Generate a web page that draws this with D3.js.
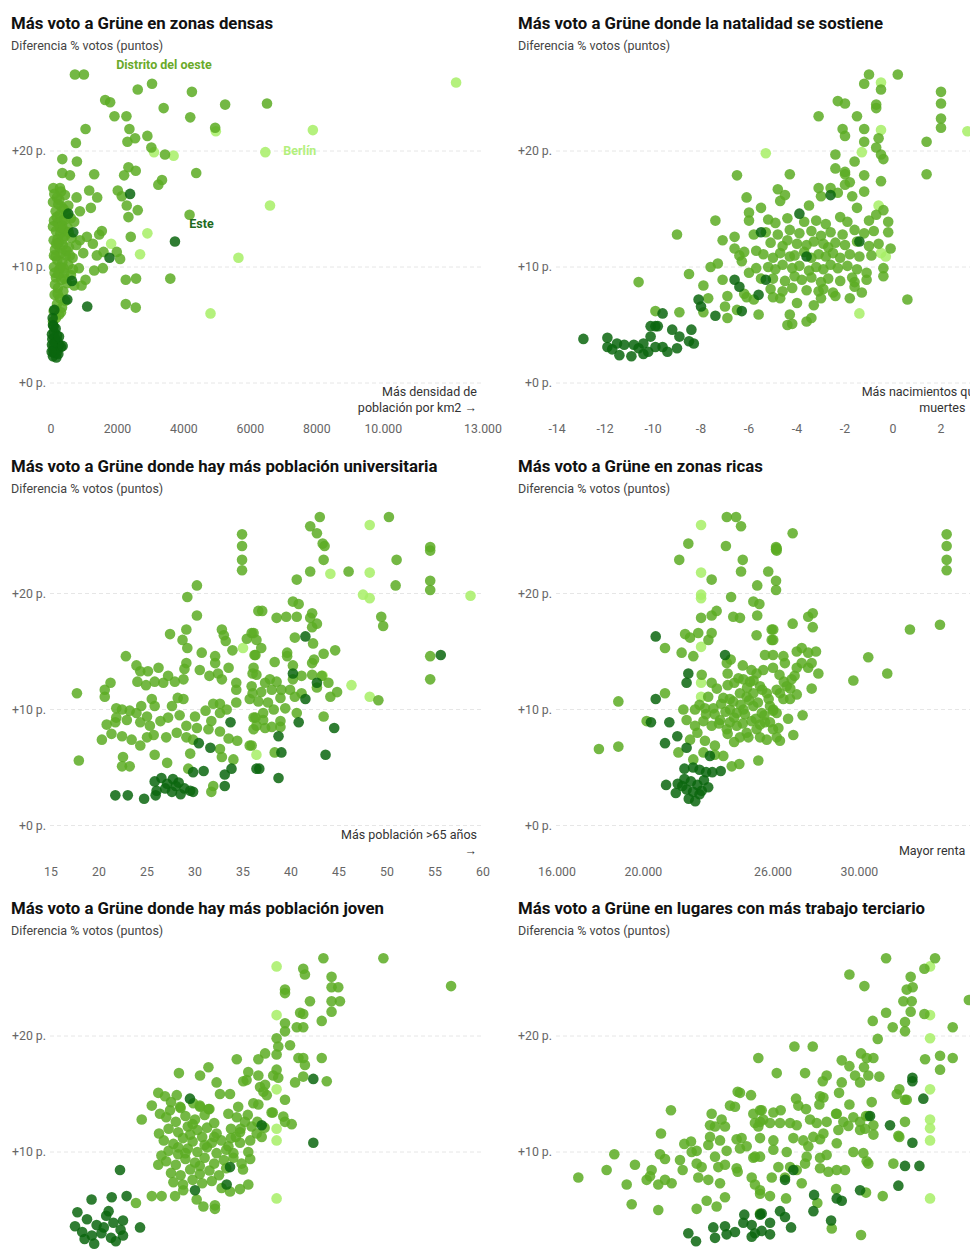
<!DOCTYPE html>
<html><head><meta charset="utf-8">
<script src="https://cdn.jsdelivr.net/npm/d3@7"></script>
<style>
body{margin:0;background:#fff;overflow:hidden}
svg{display:block;font-family:Roboto,"Noto Sans",sans-serif}
</style></head><body><svg id="c" width="980" height="1253"></svg>
<script>
// ---------- text ----------
const titles=["Más voto a Grüne en zonas densas","Más voto a Grüne donde la natalidad se sostiene","Más voto a Grüne donde hay más población universitaria","Más voto a Grüne en zonas ricas","Más voto a Grüne donde hay más población joven","Más voto a Grüne en lugares con más trabajo terciario"];
const subtitle="Diferencia % votos (puntos)";
const axisNotes=[["Más densidad de","población por km2 →"],["Más nacimientos que","muertes →"],["Más población >65 años","→"],["","Mayor renta →"],[],[]];
const yTicks=[0,10,20];
const yTickLabels=["+0 p.","+10 p.","+20 p."];
// ---------- x ticks ----------
const p1Ticks=[0,2000,4000,6000,8000,10000,13000];
const p1TickLabels=["0","2000","4000","6000","8000","10.000","13.000"];
const p2Ticks=[-14,-12,-10,-8,-6,-4,-2,0,2];
const p2TickLabels=["-14","-12","-10","-8","-6","-4","-2","0","2"];
const p3Ticks=[15,20,25,30,35,40,45,50,55,60];
const p3TickLabels=["15","20","25","30","35","40","45","50","55","60"];
const p4Ticks=[16,20,26,30];
const p4TickLabels=["16.000","20.000","26.000","30.000"];
// x domains
const p1Domain=[0,13000], p2Domain=[-14,4], p3Domain=[15,60], p4Domain=[16,36], p5Domain=[8,26], p6Domain=[50,95];
// panel 1 labels [text, x, y, group]
const p1Labels=[["Distrito del oeste",1960,27.1,"west"],["Berlín",6990,19.65,"berlin"],["Este",4160,13.4,"east"]];

// ---------- Panel 1: density ----------
const p1West=[[720,26.6],[990,26.6],[2610,25.3],[3040,25.8],[4240,25.1],[5240,24.0],[1630,24.4],[1780,24.2],[3390,23.7],[1910,23.0],[2270,23.0],[4190,22.9],[1040,21.9],[2360,21.9],[2530,21.1],[2900,21.3],[4940,22.0],[750,20.7],[2300,20.8],[3020,20.3],[3430,19.7],[340,19.3],[780,19.1],[2330,18.6],[2550,18.3],[2200,17.9],[1300,18.0],[340,18.1],[570,17.9],[4370,18.1],[3340,17.5],[3230,17.1],[70,16.8],[270,16.8],[1150,16.6],[1390,16.0],[2010,16.6],[2130,16.1],[770,16.0],[2280,15.3],[2610,14.9],[4170,14.5],[2330,14.3],[1200,15.1],[870,14.8],[1530,13.1],[1450,12.8],[1080,12.6],[870,12.3],[1260,12.0],[2400,12.6],[1580,11.3],[1980,11.3],[2080,10.7],[1380,11.0],[970,11.2],[1300,9.7],[1560,9.9],[840,9.9],[2250,8.9],[2560,9.0],[3590,9.0],[1040,8.9],[920,8.4],[2250,6.8],[2550,6.5],[6500,24.1],
[100,16.3],[180,16.0],[300,16.5],[420,16.2],[60,15.6],[220,15.4],[380,15.0],[520,15.3],[140,14.8],[260,14.5],[460,14.6],[600,14.2],[90,14.0],[200,13.8],[330,13.6],[500,13.4],[700,13.9],[150,13.1],[280,12.9],[420,12.7],[620,12.5],[80,12.3],[230,12.1],[360,11.9],[540,11.7],[760,11.9],[120,11.5],[300,11.2],[450,11.0],[650,10.8],[190,10.6],[340,10.4],[520,10.2],[90,10.0],[250,9.8],[400,9.5],[600,9.3],[150,9.1],[310,8.9],[480,8.6],[700,8.4],[210,8.2],[370,7.9],[110,7.6],[270,7.3],[430,7.1],[180,6.8],[330,6.5],[80,6.2],[240,5.9],[150,5.6],[60,5.3],[200,12.4],[260,11.6],[140,10.9],[380,13.2],[170,14.3],[250,15.8],[330,14.0],[410,9.0],[220,9.4],[120,8.5],[290,10.0],[470,11.4],[350,12.4],[90,11.0],[200,7.7],[530,13.0],[160,12.0],[270,13.4],[420,14.1],[320,15.2],[60,13.5],[110,9.5],[570,11.0],[660,9.8],[300,6.1],[380,9.9]];
const p1East=[[2380,16.3],[520,14.6],[670,13.0],[3730,12.2],[1760,10.8],[630,8.8],[490,7.2],[1090,6.6],
[60,2.3],[100,2.6],[150,2.9],[80,3.2],[200,3.0],[120,3.5],[250,3.3],[40,3.8],[180,4.1],[90,4.4],[140,4.7],[60,5.0],[220,2.5],[300,3.1],[160,2.2],[110,3.9],[30,4.2],[70,2.8],[190,3.6],[240,4.0],[50,5.6],[130,3.0],[170,2.6],[80,4.9],[30,3.3],[350,3.2],[100,6.3],[20,2.7]];
const p1Berlin=[[12190,25.9],[4960,21.7],[3100,19.9],[3690,19.6],[7880,21.8],[6450,19.9],[6590,15.3],[2900,12.9],[1810,12.0],[2680,11.1],[5640,10.8],[4800,6.0]];

// ---------- Panel 2: natality ----------
const p2West=[[-6.5,17.9],[-9.0,12.8],[-10.6,8.7],[-9.9,6.2],[-8.9,6.1],[-8.5,9.4],[-7.4,14.0],[-7.6,10.0],[-7.3,10.3],[-7.9,8.4],[-7.7,7.3],[-7.9,6.1],[-7.1,12.3],[-6.6,12.6],[-6.6,11.6],[-6.4,11.0],[-6.2,11.3],[-6.3,10.5],[-6.1,16.0],[-6.0,14.7],[-6.0,14.0],[-5.8,12.8],[-5.7,11.4],[-6.0,9.5],[-7.1,8.9],[-6.9,7.5],[-7.0,6.6],[-6.9,5.6],[-6.5,6.3],[-6.2,7.7],[-6.1,7.4],[-5.8,7.2],[-5.6,5.9],[-5.7,9.9],[-5.5,9.0],[-5.5,15.1],
[-1.0,26.6],[0.2,26.6],[-1.2,25.8],[-0.5,25.3],[2.0,25.1],[2.0,24.1],[2.0,22.8],[2.0,22.0],[-2.3,24.3],[-2.0,24.1],[-0.7,24.0],[-0.7,23.7],[-3.1,23.0],[-1.5,23.0],[-2.1,21.9],[-2.0,21.3],[-1.2,21.9],[-0.6,21.1],[-0.7,20.3],[-1.2,20.8],[1.4,20.8],[-0.4,19.3],[-0.5,19.7],[-2.4,19.7],[-1.6,19.1],[-2.4,18.5],[-2.0,18.2],[-2.0,18.0],[-1.2,17.9],[-0.5,17.4],[1.4,18.0],[-4.3,18.0],[-2.0,17.1],[-1.8,17.3],[-3.1,16.8],[-3.0,16.1],[-2.6,16.8],[-2.3,16.4],[-4.8,16.7],[-4.5,16.2],[-4.7,15.7],[-1.7,16.1],[-1.2,16.5],[-3.5,15.3],[-1.5,15.1],[-0.4,14.9],[-0.7,14.5],[0.6,7.2],[-0.1,11.6],[-0.2,13.9],[-0.2,13.0],[-0.4,9.9],[-0.4,9.2],[-1.1,9.5],[-1.1,8.9],[-1.6,8.7],[-1.6,8.3],[-1.3,7.8],[-1.8,7.3],[-2.4,7.5],[-3.1,7.9],[-3.0,7.3],[-3.3,6.7],[-3.6,5.3],[-3.4,5.6],[-4.4,5.0],[-4.2,5.1],[-4.3,5.9],[-4.0,6.9],[-4.7,7.3],[-5.0,7.4],
[-5.2,14.1],[-4.9,13.8],[-4.4,14.2],[-3.7,13.9],[-3.2,14.0],[-2.8,13.7],[-2.2,14.3],[-1.9,13.9],[-1.0,14.0],
[-5.3,13.0],[-4.8,12.8],[-4.3,13.2],[-3.9,12.9],[-3.4,13.1],[-3.0,12.7],[-2.6,13.0],[-2.1,12.8],[-1.6,13.2],[-1.2,12.9],[-0.8,13.1],
[-5.1,12.1],[-4.6,11.8],[-4.4,12.3],[-4.0,12.0],[-3.6,11.9],[-3.3,12.2],[-2.9,12.0],[-2.7,11.7],[-2.4,12.1],[-2.0,11.9],[-1.5,12.2],[-1.0,11.8],[-0.6,12.0],
[-5.4,11.1],[-5.0,10.8],[-4.7,11.2],[-4.3,10.9],[-4.1,11.0],[-3.7,11.3],[-3.4,10.8],[-3.1,11.1],[-2.8,10.9],[-2.5,11.2],[-2.2,10.8],[-1.8,11.1],[-1.4,10.9],[-0.9,11.0],
[-5.2,10.0],[-4.9,9.8],[-4.6,10.2],[-4.2,9.9],[-3.9,10.1],[-3.5,9.7],[-3.2,10.0],[-2.9,9.8],[-2.6,10.2],[-2.3,9.9],[-1.9,10.1],[-1.5,9.8],
[-5.0,9.0],[-4.5,8.8],[-4.1,9.2],[-3.8,8.9],[-3.4,9.1],[-3.0,8.7],[-2.7,9.0],[-2.2,8.8],[-1.7,9.1],
[-5.1,8.1],[-4.6,7.9],[-4.2,8.2],[-3.6,8.0],[-2.9,8.1],[-2.5,7.8]];
const p2East=[[-12.9,3.8],[-11.9,3.9],[-11.9,3.1],[-11.5,3.4],[-11.4,2.4],[-11.2,3.3],[-10.9,2.3],[-10.8,3.3],[-10.4,3.4],[-10.4,2.5],[-10.2,2.7],[-9.9,3.1],[-10.1,4.0],[-9.9,4.9],[-9.8,4.9],[-9.6,3.1],[-9.4,2.7],[-9.2,4.6],[-8.9,4.0],[-9.0,3.0],[-8.5,3.6],[-8.3,3.4],[-8.4,4.6],[-9.6,6.0],[-10.1,4.9],[-8.1,7.2],[-8.0,6.6],[-7.4,5.8],[-6.6,8.9],[-6.4,8.3],[-6.3,6.2],[-5.5,13.0],[-5.6,7.6],[-3.9,14.6],[-1.4,12.2],[-3.6,10.9],[-5.3,8.9],[-2.6,16.2],[-11.7,2.9],[-10.6,3.0]];
const p2Berlin=[[-5.3,19.8],[-0.5,25.9],[-0.5,21.8],[3.1,21.7],[-1.3,19.9],[-0.6,15.3],[-0.5,11.2],[-0.3,10.9],[-1.4,6.0]];

// ---------- Panel 3: population ----------
const p3West=[[34.9,25.1],[34.9,24.1],[34.9,22.9],[34.9,22.0],[30.2,20.7],[29.2,19.7],[30.2,18.1],[27.4,16.5],[29.1,16.9],[28.7,16.0],[29.2,15.3],[32.8,16.9],[33.0,16.4],[33.2,15.9],[33.9,15.1],[30.7,14.9],[32.1,14.6],[32.1,14.0],[33.5,13.6],[22.8,14.6],[23.9,13.8],[24.3,13.3],[25.1,13.3],[26.2,13.6],[24.0,12.4],[24.9,12.1],[25.8,12.4],[26.7,12.3],[27.2,12.9],[27.9,12.4],[28.8,12.6],[28.9,13.5],[29.1,14.0],[30.5,13.4],[31.5,12.9],[32.4,13.1],[32.8,12.6],[34.3,12.3],[34.3,11.7],[17.7,11.4],[20.6,11.7],[21.2,12.3],[20.6,11.1],
[21.8,10.1],[22.4,10.0],[23.2,9.9],[21.8,9.3],[22.9,9.1],[23.9,9.7],[24.4,10.3],[25.5,10.9],[25.8,10.3],[25.0,9.4],[24.3,8.9],[25.3,8.6],[26.4,9.0],[27.2,9.3],[27.6,10.3],[28.2,11.0],[28.8,10.9],[28.4,9.5],[29.1,8.6],[30.0,9.4],[31.1,9.9],[31.9,10.5],[32.6,10.5],[33.3,10.0],[34.3,10.6],[32.6,9.7],[31.7,9.0],[31.4,8.3],[32.6,8.1],[30.2,8.4],[29.1,7.6],[29.8,7.4],[28.1,8.0],[27.0,7.6],[25.7,7.8],[25.0,7.6],[24.3,6.9],[23.4,7.4],[22.4,7.7],[21.3,7.9],[20.8,8.7],[20.3,7.4],[21.7,8.9],
[17.9,5.6],[22.5,5.9],[22.4,5.1],[23.2,5.1],[25.8,6.1],[27.1,5.4],[29.5,6.2],[29.3,4.9],[32.6,6.6],[32.8,5.9],[34.0,5.7],[33.5,7.5],[34.4,7.3],[35.7,6.9],[31.9,3.4],[31.7,2.9],[36.0,11.4],[35.7,10.9],[36.1,9.3],[36.1,8.3],[36.2,14.7],[36.0,13.1],[35.4,16.1],[35.9,16.6],[36.6,18.5],
[43.0,26.6],[42.0,25.8],[42.7,25.2],[43.3,24.3],[43.5,24.1],[43.4,22.9],[50.2,26.6],[54.5,24.0],[54.5,23.7],[51.0,22.9],[40.6,21.2],[42.0,21.9],[46.0,21.9],[50.9,20.7],[54.5,21.1],[54.5,20.3],[37.0,18.5],[38.5,17.9],[39.5,18.0],[40.6,18.0],[40.2,19.3],[40.8,19.1],[42.2,18.3],[42.0,17.9],[42.7,17.4],[42.2,17.1],[49.4,18.0],[49.6,17.2],[36.1,16.6],[36.4,16.0],[36.9,15.3],[36.3,14.7],[40.4,16.2],[42.3,15.7],[39.6,14.9],[39.6,14.6],[38.3,14.1],[40.2,13.8],[42.2,14.0],[42.4,14.3],[43.4,14.8],[44.6,15.1],[36.1,13.6],[36.4,13.0],[37.3,12.3],[37.8,12.6],[38.5,12.4],[40.2,12.6],[41.1,12.9],[42.2,13.0],[43.2,12.9],[42.7,11.9],[43.9,12.3],[35.9,12.0],[36.9,11.5],[38.0,11.7],[39.0,11.7],[39.9,11.7],[41.1,11.4],[40.4,11.1],[44.1,11.1],[44.8,11.5],[38.9,11.0],[36.6,10.7],[37.6,10.6],[39.4,10.1],[38.2,10.0],[37.1,9.7],[36.3,9.3],[36.4,8.6],[37.3,8.4],[38.0,8.5],[38.9,9.0],[38.9,8.5],[37.1,9.1],[40.6,9.7],[43.4,9.4],[35.9,6.9],[38.3,6.3],[54.5,14.6],[54.5,12.6],[49.1,10.8]];
const p3East=[[30.4,7.1],[31.6,6.7],[33.7,8.9],[29.8,4.6],[30.9,4.7],[33.1,4.4],[33.8,4.9],[33.1,3.4],[36.4,4.9],[21.7,2.6],[23.0,2.6],[24.7,2.3],[25.8,3.8],[26.5,4.1],[27.1,3.6],[27.7,4.0],[28.3,3.7],[28.9,3.2],[29.5,3.0],[26.0,3.0],[26.9,3.2],[27.6,2.9],[28.5,2.7],[29.8,2.9],[28.0,3.4],[25.9,2.6],
[41.5,16.3],[55.6,14.7],[40.2,13.1],[42.7,12.3],[41.5,10.9],[40.8,8.9],[44.5,8.4],[38.7,7.7],[39.0,6.3],[43.6,6.1],[36.7,4.9],[38.7,4.1]];
const p3Berlin=[[35.0,15.3],[36.4,6.1],[48.2,25.9],[44.1,21.7],[48.2,21.8],[47.5,19.9],[48.2,19.6],[58.7,19.8],[43.3,12.9],[46.3,12.1],[48.2,11.1]];

// ---------- Panel 4: income (miles de euros) ----------
const p4West=[[23.86,26.6],[24.29,26.6],[24.52,25.8],[22.08,24.3],[23.82,24.1],[21.66,22.9],[24.6,22.9],[24.52,21.9],[25.78,21.9],[26.14,24.0],[26.14,23.8],[23.16,21.2],[25.27,20.7],[26.14,21.1],[26.14,20.3],[24.06,19.7],[25.09,19.3],[25.37,19.1],[22.67,17.9],[23.16,18.1],[23.39,18.5],[24.16,18.0],[24.47,17.9],[25.27,18.1],[25.94,16.9],[25.94,16.0],[25.24,16.4],[21.93,16.5],[22.16,16.2],[22.54,16.6],[23.01,16.0],[23.16,16.6],[21.0,15.3],[21.77,14.9],[22.31,14.6],[24.04,14.3],[23.86,14.0],[23.9,13.1],[22.7,13.0],[23.16,12.3],[24.21,12.3],[24.63,12.6],[24.94,12.4],[25.24,13.1],[25.55,13.4],[26.0,13.6],[25.63,14.7],[26.0,14.7],[21.0,11.4],[18.84,10.7],[20.15,9.0],[17.94,6.6],[18.84,6.8],[21.85,10.0],[22.39,10.0],[22.85,10.1],[23.24,10.1],[23.7,11.0],[24.16,10.7],[24.47,11.4],[24.78,11.1],[25.09,11.4],[25.4,12.0],[25.71,11.4],[26.17,11.7],[24.01,10.0],[24.32,9.7],[24.63,10.0],[25.09,10.3],[25.48,9.7],[25.86,10.3],[26.17,9.7],[22.0,9.1],[22.39,8.6],[22.78,9.0],[23.16,8.6],[23.55,9.1],[23.86,8.3],[24.32,8.6],[24.78,8.0],[25.24,8.3],[25.63,8.9],[26.0,8.3],[26.17,7.6],[22.16,7.4],[22.85,7.3],[23.31,6.9],[23.7,6.0],[24.47,7.6],[24.86,7.6],[25.4,7.6],[25.71,7.4],[21.62,6.3],[22.31,5.7],[22.78,6.3],[23.31,6.1],[24.09,5.1],[24.44,5.3],[25.32,5.6],
[26.91,25.2],[26.17,23.9],[26.17,23.7],[34.04,25.1],[34.04,24.1],[34.04,22.9],[34.04,22.0],[32.34,16.9],[33.73,17.3],[30.41,14.5],[31.29,13.1],[29.72,12.5],[26.91,17.4],[27.63,18.0],[27.84,18.3],[27.84,17.1],[27.1,15.0],[27.33,15.3],[27.63,14.9],[27.99,15.0],[27.33,14.0],[27.79,14.0],[27.63,13.6],[28.1,13.1],[27.79,11.8],[27.1,11.3],[26.79,10.9],[27.37,9.5],[26.94,7.8],[26.32,7.3],[26.25,8.4],[26.01,16.9],[26.01,16.0],[26.48,14.6],[26.55,14.0],[26.86,12.6],[26.63,12.0],[26.32,11.4],[26.48,10.9],[26.01,10.0],[25.86,8.9],
[23.4,11.8],[23.9,12.1],[24.4,12.7],[24.8,11.9],[25.1,12.5],[25.5,11.7],[23.6,10.5],[24.0,10.9],[24.5,10.4],[24.9,10.8],[25.3,10.6],[25.8,10.9],[23.3,9.6],[23.8,9.8],[24.2,9.3],[24.7,9.6],[25.2,9.2],[25.6,9.5],[26.0,9.9],[23.5,8.8],[24.0,8.9],[24.6,8.8],[25.0,9.0],[25.4,8.7],[22.9,9.6],[22.6,10.4],[23.0,11.1],[22.5,8.0],[23.9,7.9],[24.2,7.2],[25.0,13.4],[24.6,13.8],[26.5,12.4],[26.8,11.8],[26.3,13.0],[27.0,12.9],[26.7,9.2],[27.1,13.6]];
const p4East=[[20.57,16.3],[23.78,14.7],[22.08,13.1],[22.0,12.3],[20.57,10.9],[20.35,8.9],[21.2,8.9],[21.57,7.7],[21.0,7.1],[22.0,6.7],[23.08,6.0],[23.19,4.6],[23.58,4.7],[21.05,3.5],[21.59,3.6],[21.9,4.9],[22.3,5.0],[22.6,4.8],[22.9,4.6],[21.9,4.0],[22.2,3.8],[22.5,3.5],[22.8,3.9],[23.0,3.3],[22.0,3.1],[22.3,2.9],[22.6,2.7],[22.1,2.3],[22.4,2.1],[22.7,3.0],[21.5,2.8],[21.8,3.4]];
const p4Berlin=[[22.67,12.3],[22.67,11.1],[22.67,25.9],[22.67,21.8],[22.67,19.9],[22.67,19.6],[22.67,15.4]];

// ---------- Panel 5: young population ----------
const p5West=[[13.33,16.8],[14.21,16.6],[14.56,17.3],[15.74,18.0],[16.64,18.0],[16.92,18.5],[14.9,16.0],[15.04,15.0],[15.46,15.0],[16.15,16.2],[16.01,16.1],[16.22,16.9],[16.64,16.6],[16.71,15.6],[16.92,15.8],[16.85,15.2],[16.99,14.9],[16.43,14.2],[16.64,14.1],[17.19,13.4],[12.47,15.1],[12.75,14.8],[13.24,14.9],[12.2,14.0],[11.78,12.8],[12.54,13.3],[12.96,13.6],[13.38,13.9],[13.93,14.2],[14.21,13.9],[14.56,13.7],[15.39,13.3],[15.74,13.0],[16.08,12.6],[16.36,12.2],[16.57,11.6],[16.78,11.3],[15.875,11.7],[15.875,10.8],[16.22,10.0],[15.94,9.0],[15.6,9.9],[15.39,10.5],[12.47,8.9],[12.2,6.2],[12.61,6.2],[13.17,6.2],[13.51,6.7],[14.07,5.9],[14.35,5.3],[14.83,5.4],[14.83,5.1],[15.11,6.9],[15.46,6.6],[15.875,6.8],[16.22,7.2],[11.54,5.6],
[12.8,13.0],[13.2,12.6],[13.6,13.1],[14.0,12.8],[14.4,13.2],[14.8,12.5],[12.9,12.0],[13.3,11.7],[13.7,12.2],[14.1,11.9],[14.5,12.1],[14.9,11.6],[12.7,11.0],[13.1,10.7],[13.5,11.2],[13.9,10.9],[14.3,11.3],[14.7,10.8],[15.1,11.0],[12.9,10.1],[13.3,9.8],[13.7,10.3],[14.1,10.0],[14.5,10.4],[14.9,9.9],[15.3,10.2],[12.8,9.2],[13.2,8.9],[13.6,9.4],[14.0,9.1],[14.4,9.5],[14.8,9.0],[15.2,9.3],[13.0,8.2],[13.4,8.0],[13.8,8.5],[14.2,8.1],[14.6,8.4],[15.0,8.0],[13.1,7.4],[13.5,7.2],[13.9,7.6],[14.3,7.3],[14.7,7.5],[13.4,13.8],[14.2,14.0],[13.0,14.3],[14.6,13.7],[13.8,11.5],[14.4,10.6],[13.6,9.9],[14.2,8.8],[13.9,12.4],[13.3,10.4],[14.8,11.3],[15.5,12.0],[15.6,9.5],[15.3,8.6],[12.6,9.7],[12.5,11.6],[15.7,11.3],[16.0,8.5],[16.3,9.4],[15.5,11.2],[15.9,12.0],[16.3,11.0],[16.6,12.6],[16.9,12.1],[15.8,13.9],[16.2,13.2],
[19.35,26.7],[21.85,26.7],[18.51,25.8],[18.58,25.3],[19.69,25.1],[17.75,24.0],[17.75,23.7],[19.69,24.2],[19.97,24.2],[18.79,23.0],[19.69,23.0],[20.04,23.0],[19.69,22.1],[24.67,24.3],[18.38,22.0],[18.51,21.9],[19.28,21.3],[17.75,21.1],[17.75,20.4],[18.24,20.75],[18.51,20.75],[17.4,19.8],[17.47,19.1],[17.96,19.2],[17.4,18.4],[18.31,18.1],[18.51,18.1],[18.58,17.5],[19.28,18.1],[17.4,17.1],[17.26,16.6],[17.47,16.4],[18.17,16.0],[18.51,16.5],[19.49,16.1],[17.75,14.5],[17.24,13.4],[17.68,13.05],[17.75,12.6],[18.03,12.4]];
const p5East=[[13.79,14.6],[16.78,12.3],[15.46,8.7],[15.32,7.2],[14.0,6.7],[10.875,8.45],[9.69,5.9],[10.53,6.1],[11.15,6.2],[11.71,3.5],[9.1,4.8],[9.5,4.2],[9.9,3.7],[10.3,4.5],[10.6,3.9],[11.0,4.1],[9.3,3.1],[9.7,2.8],[10.1,3.0],[10.5,2.6],[10.9,3.3],[9.0,3.6],[9.4,2.5],[10.7,2.3],[11.0,2.8],[9.8,2.1],[10.2,3.5],[10.4,4.9],[18.93,16.3],[18.93,10.8]];
const p5Berlin=[[17.4,26.0],[17.4,21.8],[17.4,15.4],[17.4,12.0],[17.4,11.0],[17.4,6.0]];

// ---------- Panel 6: tertiary employment ----------
const p6West=[[52.22,7.8],[55.17,8.45],[55.97,9.8],[58.12,8.9],[57.26,7.2],[57.78,5.5],[59.86,8.45],[59.34,7.6],[59.69,7.9],[60.55,7.2],[61.25,7.6],[61.94,7.3],[60.55,5.0],[60.83,11.6],[61.87,13.6],[60.73,9.8],[61.25,9.4],[62.81,9.3],[63.09,8.45],[63.26,10.7],[63.96,10.9],[64.03,10.0],[64.55,10.1],[64.55,9.0],[65.07,8.7],[64.72,7.8],[65.76,7.6],[65.76,10.6],[65.94,11.3],[66.11,13.3],[65.94,12.3],[66.46,12.2],[67.15,12.8],[67.5,12.2],[66.98,11.0],[66.46,9.6],[66.8,8.7],[67.5,8.9],[66.98,7.3],[67.67,10.1],[68.02,14.0],[68.54,13.9],[68.82,15.2],[69.06,15.1],[70.21,14.9],[68.71,11.1],[69.06,10.3],[69.76,10.5],[69.23,11.2],[68.71,8.6],[68.82,8.3],[70.45,13.3],[70.62,12.5],[70.97,12.2],[71.32,13.6],[71.49,12.8],[70.97,18.1],[70.45,9.5],[70.62,9.6],[70.28,7.8],[70.62,7.2],[71.15,6.4],[65.59,5.8],[66.63,5.3],[67.5,6.1],[64.55,5.1],[71.15,4.7],
[84.28,26.7],[89.38,26.7],[88.27,25.8],[80.46,25.3],[82.02,24.3],[86.84,25.1],[86.43,24.0],[87.05,24.2],[86.08,23.0],[86.95,23.0],[86.84,22.1],[84.28,22.0],[88.27,21.9],[82.89,21.3],[84.97,20.75],[86.25,21.2],[86.25,20.4],[91.22,20.75],[83.41,19.75],[74.73,19.1],[76.64,19.1],[88.34,18.0],[89.9,18.3],[91.22,18.1],[89.9,17.1],[79.66,17.9],[80.46,17.4],[81.67,18.5],[82.26,18.1],[82.96,18.1],[81.98,17.3],[72.89,16.8],[75.84,16.8],[78.09,16.6],[77.68,16.1],[79.66,16.0],[81.05,16.6],[81.57,16.0],[82.43,16.6],[83.58,16.5],[85.39,15.0],[85.66,15.4],[86.25,14.5],[86.43,14.5],[74.9,14.6],[75.14,14.0],[75.94,13.7],[77.4,14.8],[77.75,14.7],[77.33,14.1],[79.38,15.1],[80.46,14.1],[79.07,13.3],[82.78,14.3],[82.19,13.1],[82.43,13.1],[71.15,13.6],[72.54,13.4],[73.3,13.6],[71.15,12.6],[72.19,12.5],[73.23,12.5],[74.28,12.5],[74.97,12.3],[76.36,12.8],[77.05,12.5],[78.09,12.6],[79.14,13.3],[79.83,12.6],[80.87,13.0],[81.57,12.6],[82.09,12.0],[71.15,11.2],[72.54,11.0],[74.62,11.2],[75.66,11.0],[76.7,11.3],[77.75,11.6],[79.31,11.9],[80.35,12.25],[81.57,11.9],[82.96,12.3],[82.96,11.5],[86.25,12.6],[85.56,11.4],[72.54,10.2],[73.93,10.0],[76.18,10.5],[77.4,11.1],[76.01,9.6],[77.4,9.5],[78.09,9.75],[79.14,10.75],[80.87,10.0],[81.91,9.9],[82.26,9.2],[82.43,9.0],[71.15,9.6],[73.06,8.7],[74.28,8.7],[74.97,8.45],[75.84,9.0],[77.4,8.6],[78.27,8.3],[79.14,8.45],[80.0,8.45],[72.37,7.8],[73.75,7.8],[75.49,7.3],[71.15,6.7],[72.19,6.2],[73.86,6.0],[77.12,5.6],[79.07,6.8],[82.19,6.5],[83.93,6.2],[85.04,9.0],[85.66,11.3],[78.62,3.4],[81.67,2.85],[92.9,23.1]];
const p6East=[[63.68,3.0],[64.48,2.3],[66.28,3.5],[66.46,2.6],[67.5,3.6],[67.67,2.9],[68.54,3.1],[69.51,4.6],[69.41,3.9],[70.28,3.7],[70.62,3.0],[70.28,2.7],[71.32,3.2],[71.15,4.6],
[87.02,16.4],[87.02,16.1],[88.16,14.6],[82.61,13.1],[84.69,12.3],[87.02,10.8],[86.25,8.8],[87.75,8.8],[85.56,7.1],[81.57,6.7],[79.14,6.0],[79.66,5.8],[76.78,6.3],[76.71,4.9],[73.23,4.9],[73.75,4.4],[78.55,4.1],[74.38,3.5],[71.32,4.7],[72.19,3.9],[72.19,2.9],[73.75,7.6],[74.62,8.45]];
const p6Berlin=[[88.86,26.0],[88.86,21.8],[88.86,19.8],[88.86,15.4],[88.86,12.8],[88.86,12.05],[88.86,11.0],[88.86,6.0]];

// ---------- styles ----------
const colors={west:"#5cab23",east:"#0a660e",berlin:"#a7ee66"};
const labelColors={west:"#6aaa2a",east:"#1e6a1e",berlin:"#b3f07d"};

const panels=[
 {domain:p1Domain,ticks:p1Ticks,tickLabels:p1TickLabels,west:p1West,east:p1East,berlin:p1Berlin,labels:p1Labels},
 {domain:p2Domain,ticks:p2Ticks,tickLabels:p2TickLabels,west:p2West,east:p2East,berlin:p2Berlin},
 {domain:p3Domain,ticks:p3Ticks,tickLabels:p3TickLabels,west:p3West,east:p3East,berlin:p3Berlin},
 {domain:p4Domain,ticks:p4Ticks,tickLabels:p4TickLabels,west:p4West,east:p4East,berlin:p4Berlin},
 {domain:p5Domain,ticks:null,tickLabels:null,west:p5West,east:p5East,berlin:p5Berlin},
 {domain:p6Domain,ticks:null,tickLabels:null,west:p6West,east:p6East,berlin:p6Berlin}
];

const H=1253;
const svg=d3.select("#c");
svg.append("defs").append("clipPath").attr("id","rclip")
  .append("rect").attr("x",0).attr("y",0).attr("width",970).attr("height",H);
const colX=[{text:11,plot:[51,483],tick:46,note:477},{text:518,plot:[557,989],tick:552,note:981}];
const rowBase=[383,825.5,1268];

panels.forEach((p,i)=>{
  const col=colX[i%2], base=rowBase[Math.floor(i/2)];
  const g=svg.append("g");
  if(i%2===1) g.attr("clip-path","url(#rclip)");
  const x=d3.scaleLinear().domain(p.domain).range(col.plot);
  const y=d3.scaleLinear().domain([0,20]).range([base,base-232]);
  // title
  g.append("text").attr("x",col.text).attr("y",base-354).text(titles[i])
    .attr("font-size",16.8).attr("font-weight",700).attr("fill","#111");
  g.append("text").attr("x",col.text).attr("y",base-333).text(subtitle)
    .attr("font-size",12.5).attr("fill","#444");
  // grid + y labels (only those inside the visible page)
  yTicks.forEach((t,k)=>{
    if(y(t)>H-4) return;
    g.append("line").attr("x1",col.plot[0]-1).attr("x2",col.plot[1]).attr("y1",y(t)).attr("y2",y(t))
      .attr("stroke","#e6e6e6").attr("stroke-dasharray","4,3").attr("stroke-width",1);
    g.append("text").attr("x",col.tick).attr("y",y(t)+4).attr("text-anchor","end")
      .attr("font-size",12.3).attr("fill","#666").text(yTickLabels[k]);
  });
  // x ticks
  if(p.ticks){
    p.ticks.forEach((t,k)=>{
      g.append("text").attr("x",x(t)).attr("y",base+50).attr("text-anchor","middle")
        .attr("font-size",12.3).attr("fill","#666").text(p.tickLabels[k]);
    });
  }
  // axis note
  (axisNotes[i]||[]).forEach((l,k)=>{
    g.append("text").attr("x",col.note).attr("y",base+13+k*16).attr("text-anchor","end")
      .attr("font-size",12.5).attr("fill","#333").text(l);
  });
  // dots
  [["berlin",p.berlin],["west",p.west],["east",p.east]].forEach(([k,arr])=>{
    g.append("g").selectAll("circle").data(arr).join("circle")
      .attr("cx",d=>x(d[0])).attr("cy",d=>y(d[1])).attr("r",5.3)
      .attr("fill",colors[k]).attr("fill-opacity",0.85);
  });
  if(p.labels){
    p.labels.forEach(l=>{
      g.append("text").attr("x",x(l[1])).attr("y",y(l[2])).text(l[0])
        .attr("font-size",12.5).attr("font-weight",700).attr("fill",labelColors[l[3]]);
    });
  }
});
</script></body></html>
